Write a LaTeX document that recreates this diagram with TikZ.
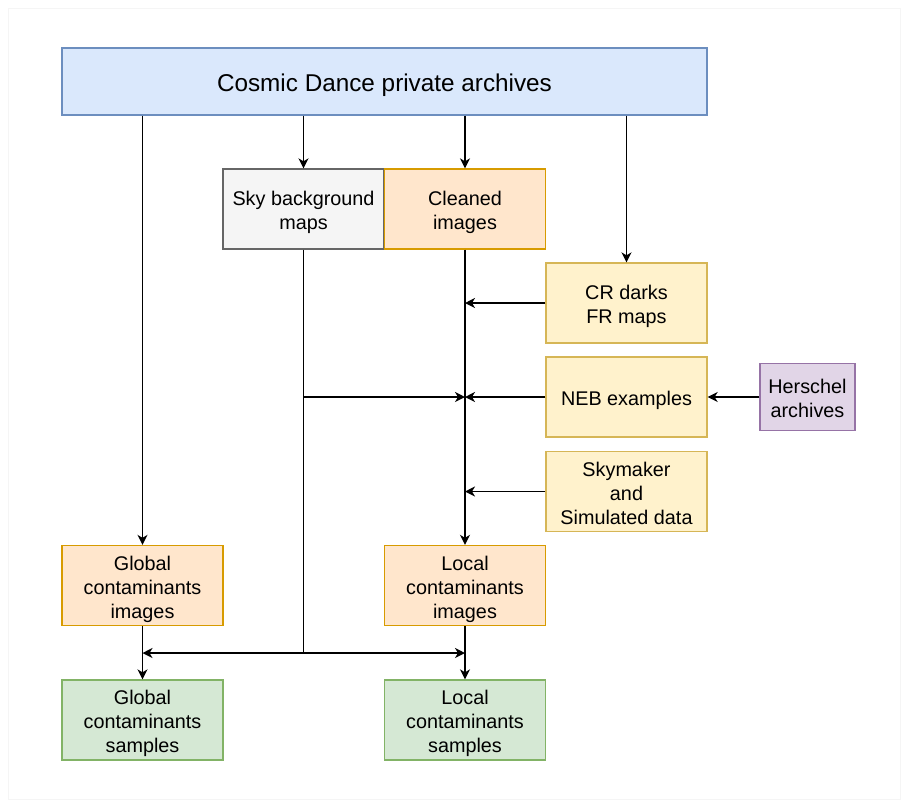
\documentclass[tikz,border=0pt]{standalone}
\usepackage{fontspec}
\setmainfont{Liberation Sans}
\usetikzlibrary{arrows.meta}
\definecolor{bluefill}{HTML}{DAE8FC}\definecolor{blueline}{HTML}{6C8EBF}
\definecolor{grayfill}{HTML}{F5F5F5}\definecolor{grayline}{HTML}{666666}
\definecolor{orangefill}{HTML}{FFE6CC}\definecolor{orangeline}{HTML}{D79B00}
\definecolor{yellowfill}{HTML}{FFF2CC}\definecolor{yellowline}{HTML}{D6B656}
\definecolor{purplefill}{HTML}{E1D5E7}\definecolor{purpleline}{HTML}{9673A6}
\definecolor{greenfill}{HTML}{D5E8D4}\definecolor{greenline}{HTML}{82B366}
% text of a box, set a little lower than its centre
\newcommand\boxtext[1]{\raisebox{-4pt}[\height][\depth]{\begin{tabular}{@{}c@{}}#1\end{tabular}}}
\begin{document}
\begin{tikzpicture}[x=1pt,y=-1pt,
  every node/.style={font=\fontsize{19.8}{24}\selectfont,inner sep=0pt},
  box/.style={draw,line width=1.3pt,minimum width=161pt,minimum height=80pt},
  arr/.style={-{Stealth[length=10pt,width=10pt,inset=3pt]},line width=1.5pt},
  ln/.style={line width=1.5pt}]
\useasboundingbox (0,0) rectangle (908,807);
\draw[black!4,line width=1pt] (8,8) rectangle (900,799);
% sources
\node[box,fill=bluefill,draw=blueline,minimum width=645pt,minimum height=67pt,font=\fontsize{24.3}{30}\selectfont] (cda) at (384.5,81.5) {\boxtext{Cosmic Dance private archives}};
\node[box,fill=grayfill,draw=grayline] (sky) at (303.5,209) {\boxtext{Sky background\\maps}};
\node[box,fill=orangefill,draw=orangeline] (clean) at (465,209) {\boxtext{Cleaned\\images}};
\node[box,fill=yellowfill,draw=yellowline] (cr) at (626.5,303) {\boxtext{CR darks\\FR maps}};
\node[box,fill=yellowfill,draw=yellowline] (neb) at (626.5,397) {\boxtext{NEB examples}};
\node[box,fill=yellowfill,draw=yellowline] (skym) at (626.5,491.5) {\boxtext{Skymaker\\and\\Simulated data}};
\node[box,fill=purplefill,draw=purpleline,minimum width=95pt,minimum height=67pt] (hers) at (807.5,397) {\boxtext{Herschel\\archives}};
% products
\node[box,fill=orangefill,draw=orangeline] (gimg) at (142.5,585.5) {\boxtext{Global\\contaminants\\images}};
\node[box,fill=orangefill,draw=orangeline] (limg) at (465,585.5) {\boxtext{Local\\contaminants\\images}};
\node[box,fill=greenfill,draw=greenline] (gsmp) at (142.5,720) {\boxtext{Global\\contaminants\\samples}};
\node[box,fill=greenfill,draw=greenline] (lsmp) at (465,720) {\boxtext{Local\\contaminants\\samples}};
\coordinate (j) at (303.5,653);
% connectors
\foreach \n in {gimg,sky,clean,cr} {\draw[arr] (cda.south -| \n.north) -- (\n.north);}
\draw[arr] (clean.south) -- (limg.north);
\foreach \n in {cr,neb,skym} {\draw[arr] (\n.west) -- (\n.west -| clean);}
\draw[arr] (hers.west) -- (neb.east);
\draw[ln] (sky.south) -- (j);
\draw[arr] (sky |- neb) -- (neb -| clean);
\draw[arr] (j) -- (j -| gimg);
\draw[arr] (j) -- (j -| limg);
\draw[arr] (gimg.south) -- (gsmp.north);
\draw[arr] (limg.south) -- (lsmp.north);
\end{tikzpicture}
\end{document}
